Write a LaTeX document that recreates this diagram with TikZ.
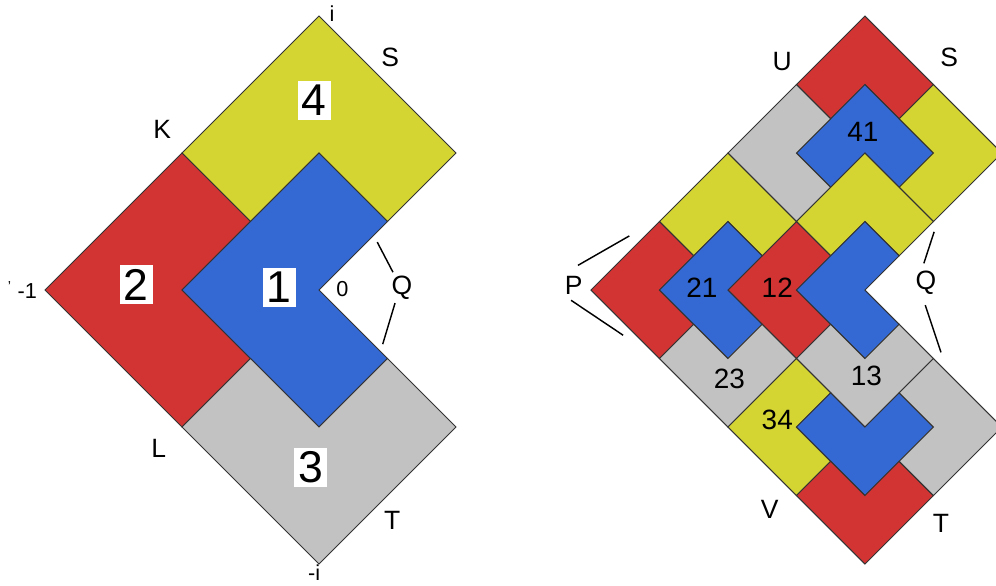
\documentclass[tikz,border=0pt]{standalone}
\usepackage{fontspec}
\setmainfont{Liberation Sans}
\definecolor{pred}{RGB}{210,52,52}
\definecolor{pyel}{RGB}{212,212,50}
\definecolor{pblu}{RGB}{52,104,210}
\definecolor{pgry}{RGB}{194,194,194}
\tikzset{
  piece/.style={draw=black!80,line width=0.4pt,line join=miter},
  rd/.style={piece,fill=pred},
  yl/.style={piece,fill=pyel},
  bl/.style={piece,fill=pblu},
  gy/.style={piece,fill=pgry},
  lab/.style={font=\fontsize{11}{13}\selectfont,inner sep=0pt},
  small/.style={font=\fontsize{9}{11}\selectfont,inner sep=0pt},
  tiny/.style={font=\fontsize{6}{7}\selectfont,inner sep=0pt},
  big/.style={font=\fontsize{18.5}{20}\selectfont,fill=white,inner sep=0pt,minimum width=13.7pt,minimum height=16.2pt},
  sub/.style={font=\fontsize{11.6}{13}\selectfont,inner sep=0pt},
  ptr/.style={line width=0.6pt,black}
}
\begin{document}
\begin{tikzpicture}
\clip (-4.657,-4.307) rectangle (9.883,4.234);
\useasboundingbox (-4.657,-4.307) rectangle (9.883,4.234);
% ---------- left figure ----------
\fill[white] (-4.657,-4.307) rectangle (9.883,4.234);
\path[yl] (0,4)--(2,2)--(1,1)--(0,2)--(-1,1)--(-2,2)--cycle;
\path[rd] (-2,2)--(-1,1)--(-2,0)--(-1,-1)--(-2,-2)--(-4,0)--cycle;
\path[bl] (0,2)--(1,1)--(0,0)--(1,-1)--(0,-2)--(-2,0)--cycle;
\path[gy] (-1,-1)--(0,-2)--(1,-1)--(2,-2)--(0,-4)--(-2,-2)--cycle;
\node[big] (n4) at (-0.07,2.77) {4};
\node[big] (n2) at (-2.67,0.08) {2};
\node[big] (n1) at (-0.58,0.04) {1};
\node[big] (n3) at (-0.12,-2.59) {3};
\node[small] (li) at (0.19,4.03) {i};
\node[lab] (lS) at (1.04,3.40) {S};
\node[lab] (lK) at (-2.29,2.34) {K};
\node[small] (lm1) at (-4.26,-0.01) {-1};
\node[tiny] (ltick) at (-4.52,0.05) {'};
\node[small] (l0) at (0.34,0.01) {0};
\node[lab] (lQ) at (1.21,0.03) {Q};
\node[lab] (lL) at (-2.34,-2.31) {L};
\node[lab] (lT) at (1.07,-3.36) {T};
\node[small] (lmi) at (-0.07,-4.13) {-i};
\coordinate (lq1a) at (0.85,0.70);
\coordinate (lq1b) at (1.08,0.26);
\coordinate (lq2a) at (1.11,-0.19);
\coordinate (lq2b) at (0.93,-0.79);
\draw[ptr] (lq1a) -- (lq1b);
\draw[ptr] (lq2a) -- (lq2b);
% ---------- right figure ----------
\begin{scope}[shift={(7.97,0)}]
\path[rd] (0,4)--(1,3)--(0.5,2.5)--(0,3)--(-0.5,2.5)--(-1,3)--cycle;
\path[bl] (0,3)--(1,2)--(0.5,1.5)--(0,2)--(-0.5,1.5)--(-1,2)--cycle;
\path[yl] (1,3)--(2,2)--(1,1)--(0.5,1.5)--(1,2)--(0.5,2.5)--cycle;
\path[gy] (-1,3)--(-0.5,2.5)--(-1,2)--(-0.5,1.5)--(-1,1)--(-2,2)--cycle;
\path[yl] (0,2)--(1,1)--(0.5,0.5)--(0,1)--(-0.5,0.5)--(-1,1)--cycle;
\path[rd] (-1,1)--(-0.5,0.5)--(-1,0)--(-0.5,-0.5)--(-1,-1)--(-2,0)--cycle;
\path[bl] (0,1)--(0.5,0.5)--(0,0)--(0.5,-0.5)--(0,-1)--(-1,0)--cycle;
\path[gy] (-0.5,-0.5)--(0,-1)--(0.5,-0.5)--(1,-1)--(0,-2)--(-1,-1)--cycle;
\path[yl] (-2,2)--(-1,1)--(-1.5,0.5)--(-2,1)--(-2.5,0.5)--(-3,1)--cycle;
\path[rd] (-3,1)--(-2.5,0.5)--(-3,0)--(-2.5,-0.5)--(-3,-1)--(-4,0)--cycle;
\path[bl] (-2,1)--(-1.5,0.5)--(-2,0)--(-1.5,-0.5)--(-2,-1)--(-3,0)--cycle;
\path[gy] (-2.5,-0.5)--(-2,-1)--(-1.5,-0.5)--(-1,-1)--(-2,-2)--(-3,-1)--cycle;
\path[yl] (-1,-1)--(-0.5,-1.5)--(-1,-2)--(-0.5,-2.5)--(-1,-3)--(-2,-2)--cycle;
\path[bl] (-0.5,-1.5)--(0,-2)--(0.5,-1.5)--(1,-2)--(0,-3)--(-1,-2)--cycle;
\path[rd] (-0.5,-2.5)--(0,-3)--(0.5,-2.5)--(1,-3)--(0,-4)--(-1,-3)--cycle;
\path[gy] (1,-1)--(2,-2)--(1,-3)--(0.5,-2.5)--(1,-2)--(0.5,-1.5)--cycle;
\end{scope}
\node[sub] (s41) at (7.94,2.31) {41};
\node[sub] (s21) at (5.59,0.04) {21};
\node[sub] (s12) at (6.69,0.04) {12};
\node[sub] (s23) at (5.99,-1.30) {23};
\node[sub] (s13) at (7.99,-1.26) {13};
\node[sub] (s34) at (6.69,-1.90) {34};
\node[lab] (rU) at (6.76,3.33) {U};
\node[lab] (rS) at (9.20,3.40) {S};
\node[lab] (rP) at (3.72,0.07) {P};
\node[lab] (rQ) at (8.86,0.10) {Q};
\node[lab] (rV) at (6.58,-3.20) {V};
\node[lab] (rT) at (9.08,-3.40) {T};
\coordinate (rp1a) at (3.78,0.36);
\coordinate (rp1b) at (4.53,0.79);
\coordinate (rp2a) at (3.68,-0.15);
\coordinate (rp2b) at (4.44,-0.66);
\coordinate (rq1a) at (8.98,0.85);
\coordinate (rq1b) at (8.83,0.39);
\coordinate (rq2a) at (8.85,-0.22);
\coordinate (rq2b) at (9.08,-0.91);
\draw[ptr] (rp1a) -- (rp1b);
\draw[ptr] (rp2a) -- (rp2b);
\draw[ptr] (rq1a) -- (rq1b);
\draw[ptr] (rq2a) -- (rq2b);
\end{tikzpicture}
\end{document}
